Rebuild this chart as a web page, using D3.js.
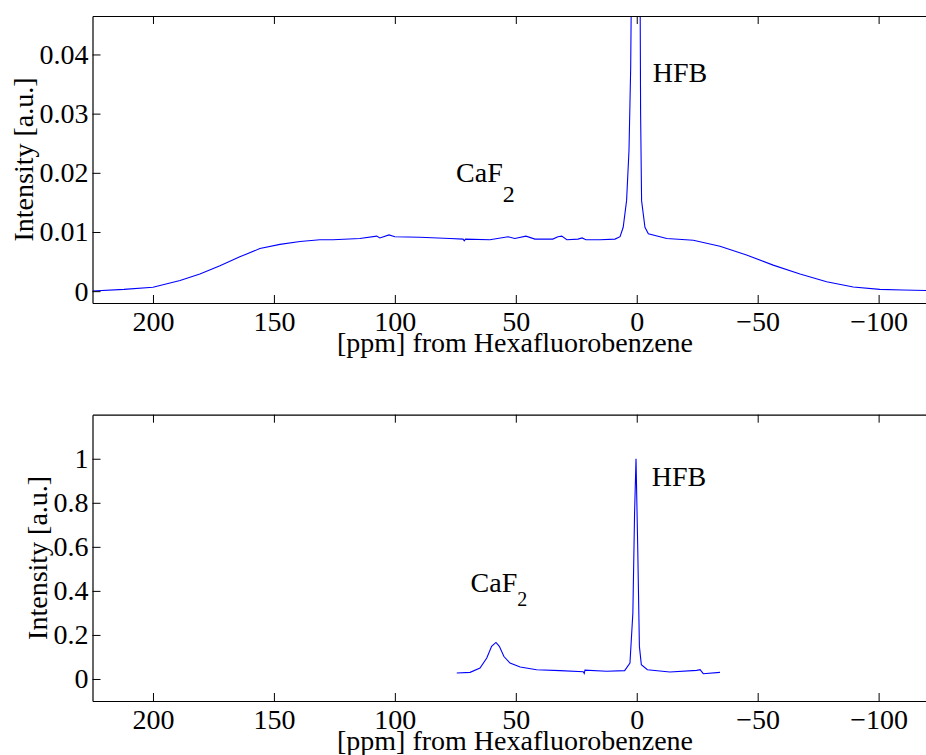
<!DOCTYPE html>
<html>
<head>
<meta charset="utf-8">
<script src="https://cdn.jsdelivr.net/npm/d3@7"></script>
<style>
  html, body { margin: 0; padding: 0; background: #fff; }
  svg { display: block; }
</style>
</head>
<body>
<svg id="chart" width="926" height="755"></svg>
<script>
// ---- data ----
const xTicks = [200, 150, 100, 50, 0, -50, -100];
const topYTicks = [0, 0.01, 0.02, 0.03, 0.04];
const bottomYTicks = [0, 0.2, 0.4, 0.6, 0.8, 1];

const topPpm = [225, 212, 200, 188.8, 180.6, 172.3, 164.1, 155.8, 147.5, 139.2, 131, 125.6, 114.5, 107.5, 106.2, 102.4, 100, 89.7, 77.2, 71.8, 71.3, 70.8, 60.7, 53.2, 50.4, 45.8, 42.1, 34.7, 32.6, 31, 28.9, 24.3, 22.6, 21, 15.2, 9, 6.9, 5.6, 4.2, 3.2, 2.5, 1.8, 0.3, -1.2, -1.6, -2.0, -3.4, -4.8, -9.6, -12.4, -23.4, -34.4, -45.4, -56.4, -67.5, -78.5, -89.5, -100.5, -110, -120];
const topInt = [0.00003, 0.0003, 0.00066, 0.0018, 0.0029, 0.0043, 0.0058, 0.0072, 0.0079, 0.0084, 0.0087, 0.0087, 0.0089, 0.0093, 0.009, 0.0095, 0.0092, 0.0091, 0.0089, 0.0088, 0.0085, 0.0088, 0.0087, 0.0092, 0.0089, 0.0093, 0.0088, 0.0088, 0.0092, 0.0093, 0.0087, 0.0088, 0.009, 0.0087, 0.0087, 0.0088, 0.0092, 0.0108, 0.0153, 0.0238, 0.0378, 0.07, 1.0, 0.07, 0.03, 0.0153, 0.0108, 0.0097, 0.0092, 0.0089, 0.0086, 0.0076, 0.0061, 0.0044, 0.0029, 0.0016, 0.0007, 0.0003, 0.0002, 0.0001];

const bottomPpm = [74.4, 68.9, 64.8, 62.0, 60.0, 58.2, 56.8, 54.9, 52.4, 48.2, 41.4, 31.7, 22.1, 21.7, 21.4, 12.4, 5.0, 2.8, 1.6, 0.9, 0.3, -0.4, -1.1, -1.9, -4.4, -13.7, -24.8, -26.2, -27.5, -34.4];
const bottomInt = [0.027, 0.030, 0.050, 0.095, 0.148, 0.166, 0.148, 0.102, 0.072, 0.054, 0.042, 0.038, 0.033, 0.025, 0.040, 0.035, 0.038, 0.072, 0.3, 0.75, 1.0, 0.6, 0.148, 0.065, 0.042, 0.032, 0.039, 0.042, 0.024, 0.030];

const xLabel = "[ppm] from Hexafluorobenzene";
const yLabel = "Intensity [a.u.]";
// annotations: [ppm, intensity]
const topAnnot = { caf: [74.7, 0.0184], hfb: [-6.6, 0.0354] };
const bottomAnnot = { caf: [68.7, 0.396], hfb: [-6.2, 0.876] };

// ---- drawing ----
const svg = d3.select("#chart");
const FS = 28;
const FONT = "'Liberation Serif'";

function styleText(sel, size) {
  return sel.attr("font-family", FONT).style("font-family", FONT)
    .style("font-size", size + "px").attr("fill", "#000");
}

function panel(cfg) {
  const g = svg.append("g");
  const x = d3.scaleLinear().domain([225, -120]).range([92.5, 927]);
  const y = d3.scaleLinear().domain(cfg.yDomain).range([cfg.bottom, cfg.top]);
  const clipId = "clip" + cfg.id;
  svg.append("clipPath").attr("id", clipId).append("rect")
    .attr("x", 92.5).attr("y", cfg.top).attr("width", 927 - 92.5).attr("height", cfg.bottom - cfg.top);

  const line = d3.line().x(d => x(d[0])).y(d => y(d[1]));
  const pts = cfg.ppm.map((p, i) => [p, cfg.val[i]]);
  g.append("path").attr("d", line(pts)).attr("clip-path", `url(#${clipId})`)
    .attr("fill", "none").attr("stroke", "#0000ff").attr("stroke-width", 1.1);

  const ax = (sel) => {
    sel.attr("font-family", FONT);
    sel.selectAll(".domain").attr("stroke", "#000").attr("stroke-width", 1.2);
    sel.selectAll(".tick line").attr("stroke", "#000").attr("stroke-width", 1);
    styleText(sel.selectAll("text"), FS);
  };
  g.append("g").attr("transform", `translate(0,${cfg.bottom})`)
    .call(d3.axisBottom(x).tickValues(xTicks).tickSizeInner(-8).tickSizeOuter(0).tickPadding(8)
      .tickFormat(d => d < 0 ? "\u2212" + Math.abs(d) : String(d)))
    .call(ax);
  g.append("g").attr("transform", `translate(0,${cfg.top})`)
    .call(d3.axisTop(x).tickValues(xTicks).tickSizeInner(-8).tickSizeOuter(0).tickFormat(""))
    .call(ax);
  g.append("g").attr("transform", `translate(92.5,0)`)
    .call(d3.axisLeft(y).tickValues(cfg.yTicks).tickSizeInner(-8).tickSizeOuter(0).tickPadding(4)
      .tickFormat(d => String(+d.toFixed(3))))
    .call(ax);

  styleText(g.append("text"), FS).attr("x", 515).attr("y", cfg.bottom + cfg.xLabelOff)
    .attr("text-anchor", "middle").text(xLabel);
  styleText(g.append("text"), FS)
    .attr("transform", `translate(${cfg.yLabelX},${(cfg.top + cfg.bottom) / 2}) rotate(-90)`)
    .attr("text-anchor", "middle").text(yLabel);

  const caf = styleText(g.append("text"), FS).attr("x", x(cfg.annot.caf[0])).attr("y", y(cfg.annot.caf[1]));
  caf.append("tspan").text("CaF");
  caf.append("tspan").attr("dy", cfg.subDy).style("font-size", cfg.subFs + "px").text("2");
  styleText(g.append("text"), FS).attr("x", x(cfg.annot.hfb[0])).attr("y", y(cfg.annot.hfb[1])).text("HFB");
}

panel({ id: "t", top: 16, bottom: 303, yDomain: [-0.002, 0.0465], yTicks: topYTicks,
  ppm: topPpm, val: topInt, annot: topAnnot, xLabelOff: 48.5, yLabelX: 33, subDy: 20, subFs: 24 });
panel({ id: "b", top: 414.7, bottom: 701, yDomain: [-0.1, 1.2], yTicks: bottomYTicks,
  ppm: bottomPpm, val: bottomInt, annot: bottomAnnot, xLabelOff: 48.5, yLabelX: 46.5, subDy: 14, subFs: 20 });
</script>
</body>
</html>
